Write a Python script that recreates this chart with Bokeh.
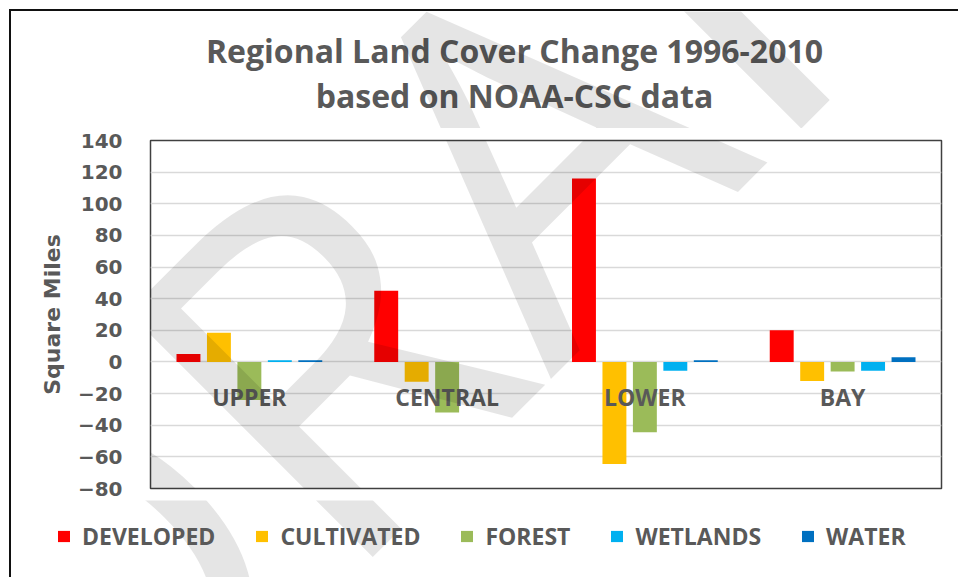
import math
from bokeh.plotting import figure
from bokeh.layouts import column
from bokeh.models import (FactorRange, Range1d, FixedTicker, Legend, LegendItem,
                          Label, ColumnDataSource)
from bokeh.transform import dodge
from bokeh.core.properties import value
from bokeh.embed import file_html
from bokeh.resources import INLINE

# ---- data ----
regions = ["UPPER", "CENTRAL", "LOWER", "BAY"]
series_names = ["DEVELOPED", "CULTIVATED", "FOREST", "WETLANDS", "WATER"]
developed = [5, 45, 116, 20]
cultivated = [18.5, -12.5, -64.5, -12]
forest = [-24, -32, -44.5, -6]
wetlands = [1, 0, -5.5, -5.5]
water = [1, 0, 1, 3]
series_colors = ["#FF0000", "#FFC000", "#9BBB59", "#00B0F0", "#0070C0"]
y_ticks = [-80, -60, -40, -20, 0, 20, 40, 60, 80, 100, 120, 140]
title_lines = ["Regional Land Cover Change 1996-2010", "based on NOAA-CSC data"]
y_title = "Square Miles"
watermark_text = "DRAFT"

GRAY = "#595959"
W = 947
TOP_H, MID_H, BOT_H = 117, 372, 77
ORG_X, ORG_Y = 11, 11            # page position of the content box
WM_X, WM_Y = -43, 706            # page position of watermark anchor


def no_align(f):
    try:
        f.frame_align = False
    except AttributeError:
        pass


def plain_fig(h, **kw):
    f = figure(width=W, height=h, x_axis_type=None, y_axis_type=None,
               output_backend="svg", toolbar_location=None, min_border=0,
               min_border_left=0, min_border_right=0, min_border_top=0,
               min_border_bottom=0, **kw)
    f.outline_line_color = None
    f.xgrid.visible = False
    f.ygrid.visible = False
    f.background_fill_color = "white"
    f.border_fill_color = "white"
    no_align(f)
    return f


def add_watermark(fig, frame_left, frame_bottom):
    fig.add_layout(Label(x=WM_X - frame_left, y=frame_bottom - WM_Y,
                         x_units="screen", y_units="screen", text=watermark_text,
                         angle=math.pi / 4, text_align="left",
                         text_baseline="alphabetic", text_font="Open Sans",
                         text_font_size="485px", text_color="black", text_alpha=0.1))


src = ColumnDataSource(dict(region=regions, DEVELOPED=developed, CULTIVATED=cultivated,
                            FOREST=forest, WETLANDS=wetlands, WATER=water,
                            zero=[0] * len(regions)))

# ---------- title strip ----------
tf = plain_fig(TOP_H, x_range=Range1d(0, 1), y_range=Range1d(0, 1))
top_bottom = ORG_Y + TOP_H
for line, base in zip(title_lines, [50, 95]):
    tf.add_layout(Label(x=514 - ORG_X, y=top_bottom - base, x_units="screen",
                        y_units="screen", text=line, text_align="center",
                        text_baseline="alphabetic", text_font="Open Sans",
                        text_font_style="bold", text_font_size="32px",
                        text_color=GRAY))
add_watermark(tf, ORG_X, top_bottom)

# ---------- main chart ----------
p = figure(width=W, height=MID_H, x_range=FactorRange(factors=regions),
           y_range=Range1d(-80, 140), output_backend="svg", toolbar_location=None,
           min_border_left=139, min_border_right=17, min_border_top=12,
           min_border_bottom=12, title=None)
no_align(p)
p.background_fill_color = "white"
p.border_fill_color = "white"
p.outline_line_color = "#404040"
p.outline_line_width = 1.5

p.xaxis.visible = False
p.xgrid.visible = False
p.ygrid.grid_line_color = "#d9d9d9"
p.ygrid.grid_line_width = 1.5
p.yaxis.ticker = FixedTicker(ticks=y_ticks)
p.yaxis.axis_line_color = None
p.yaxis.major_tick_line_color = None
p.yaxis.minor_tick_line_color = None
p.yaxis.major_tick_out = 0
p.yaxis.major_tick_in = 0
p.yaxis.major_label_standoff = 28
p.yaxis.major_label_text_font = "DejaVu Sans"
p.yaxis.major_label_text_font_style = "bold"
p.yaxis.major_label_text_font_size = "20px"
p.yaxis.major_label_text_color = GRAY
p.yaxis.axis_label = y_title
p.yaxis.axis_label_text_font = "DejaVu Sans"
p.yaxis.axis_label_text_font_style = "bold"
p.yaxis.axis_label_text_font_size = "22px"
p.yaxis.axis_label_text_color = GRAY
p.yaxis.axis_label_standoff = 10

step = 0.154
bar_w = 0.121
for i, (name, col) in enumerate(zip(series_names, series_colors)):
    off = (i - 2) * step
    p.vbar(x=dodge("region", off, range=p.x_range), top=name, bottom="zero",
           width=bar_w, source=src, fill_color=col, line_color=None)

p.text(x="region", y="zero", text="region", source=src, text_align="center",
       text_baseline="alphabetic", y_offset=35, text_font=value("Open Sans"),
       text_font_style="bold", text_font_size="23px", text_color=GRAY)
add_watermark(p, 150, 488)

# ---------- legend strip (same series, drawn outside its visible range) ----------
lf = plain_fig(BOT_H, x_range=FactorRange(factors=regions), y_range=Range1d(1000, 1001))
items = []
for i, (name, col) in enumerate(zip(series_names, series_colors)):
    r = lf.vbar(x=dodge("region", (i - 2) * step, range=lf.x_range), top=name,
                bottom="zero", width=bar_w, source=src, fill_color=col,
                line_color=None)
    items.append(LegendItem(label=name, renderers=[r]))
bot_bottom = ORG_Y + TOP_H + MID_H + BOT_H
legend = Legend(items=items, orientation="horizontal",
                location=(56 - ORG_X, bot_bottom - 552),
                spacing=39, label_standoff=11, glyph_width=15, glyph_height=14,
                padding=0, margin=0, border_line_color=None,
                background_fill_alpha=0,
                label_text_font="Open Sans", label_text_font_style="bold",
                label_text_font_size="23px", label_text_color=GRAY)
lf.add_layout(legend, "center")
add_watermark(lf, ORG_X, bot_bottom)

layout = column(tf, p, lf, spacing=0)
layout.styles = {"margin-left": "9px", "margin-top": "9px",
                 "border-top": "2px solid #111111", "border-left": "2px solid #111111"}

open("out.html", "w").write(file_html(layout, INLINE))
